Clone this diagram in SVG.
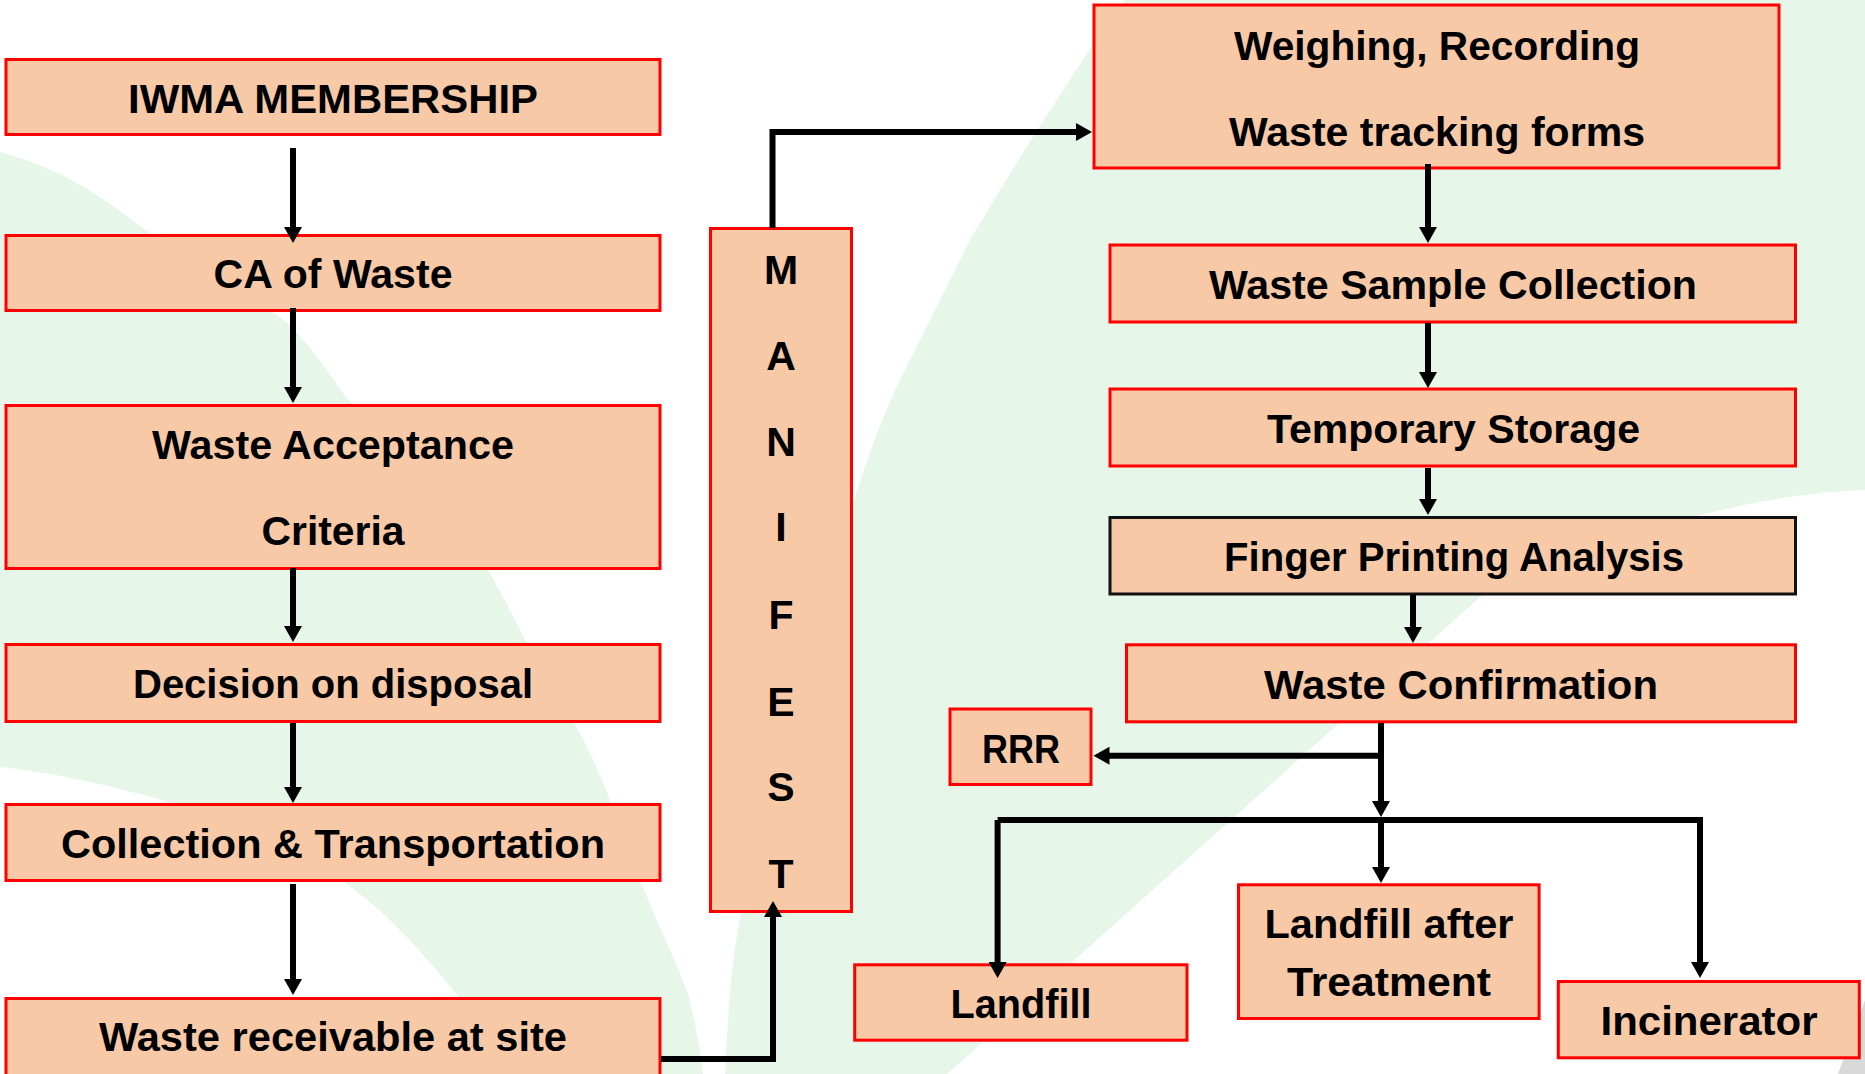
<svg xmlns="http://www.w3.org/2000/svg" width="1865" height="1074" viewBox="0 0 1865 1074">
  <defs>
    <style>
      .box { fill: #F7C9A7; stroke: #FF0000; stroke-width: 3; }
      .boxk { fill: #F7C9A7; stroke: #111111; stroke-width: 3; }
      .t { font-family: "Liberation Sans", Arial, sans-serif; font-weight: bold; font-size: 41px; fill: #000000; text-anchor: middle; }
      .c { fill: none; stroke: #000000; stroke-width: 6; stroke-linejoin: miter; }
      .bg { fill: #E6F6E9; }
    </style>
    <marker id="ah" markerUnits="userSpaceOnUse" markerWidth="17" markerHeight="18" refX="6" refY="9" orient="auto">
      <path d="M0,0 L16,9 L0,18 Z" fill="#000000"/>
    </marker>
  </defs>

  <rect x="0" y="0" width="1865" height="1074" fill="#FFFFFF"/>

  <g id="background">
    <path class="bg" d="M1125,0 L1865,0 L1865,490 C1800,492 1740,505 1680,520 C1600,540 1540,560 1497,582 L947,1074 L725,1074 C728,1010 732,960 738,930 C750,860 775,760 800,680 C820,610 835,560 854,500 C870,450 885,410 900,380 C930,320 950,280 970,240 C1000,190 1030,140 1057,100 C1080,65 1100,30 1125,0 Z"/>
    <path class="bg" d="M0,152 C50,165 95,190 134,222 C190,262 245,290 286,322 C315,350 330,375 348,400 C380,430 400,455 420,480 C450,515 470,540 488,570 C505,600 518,625 530,650 C548,680 560,700 574,723 C590,750 600,775 610,800 C622,830 630,855 640,880 C660,930 678,965 689,997 C696,1025 700,1050 703,1074 L500,1074 C490,1045 478,1020 459,997 C420,950 390,915 344,882 C290,845 230,820 172,803 C110,785 50,772 0,767 Z"/>
    <path d="M1865,1000 L1865,1074 L1838,1074 Z" fill="#D9D9D9"/>
  </g>

  <g id="n-iwma">
    <rect class="box" x="6" y="59.5" width="654" height="75"/>
    <text class="t" x="333" y="112.5" textLength="410" lengthAdjust="spacingAndGlyphs">IWMA MEMBERSHIP</text>
  </g>
  <g id="n-ca">
    <rect class="box" x="6" y="235.5" width="654" height="75"/>
    <text class="t" x="333" y="288" textLength="239" lengthAdjust="spacingAndGlyphs">CA of Waste</text>
  </g>
  <g id="n-wac">
    <rect class="box" x="6" y="405.5" width="654" height="163"/>
    <text class="t" x="333" y="459" textLength="362" lengthAdjust="spacingAndGlyphs">Waste Acceptance</text>
    <text class="t" x="333" y="545" textLength="143" lengthAdjust="spacingAndGlyphs">Criteria</text>
  </g>
  <g id="n-decision">
    <rect class="box" x="6" y="644.5" width="654" height="77"/>
    <text class="t" x="333" y="698" textLength="400" lengthAdjust="spacingAndGlyphs">Decision on disposal</text>
  </g>
  <g id="n-collection">
    <rect class="box" x="6" y="804.5" width="654" height="76"/>
    <text class="t" x="333" y="858" textLength="544" lengthAdjust="spacingAndGlyphs">Collection &amp; Transportation</text>
  </g>
  <g id="n-receivable">
    <rect class="box" x="6" y="998.5" width="654" height="90"/>
    <text class="t" x="333" y="1051" textLength="468" lengthAdjust="spacingAndGlyphs">Waste receivable at site</text>
  </g>

  <g id="n-manifest">
    <rect class="box" x="710.5" y="228.5" width="141" height="683"/>
    <text class="t" x="781" y="284">M</text>
    <text class="t" x="781" y="370">A</text>
    <text class="t" x="781" y="455.5">N</text>
    <text class="t" x="781" y="541">I</text>
    <text class="t" x="781" y="628.5">F</text>
    <text class="t" x="781" y="715.5">E</text>
    <text class="t" x="781" y="801">S</text>
    <text class="t" x="781" y="888">T</text>
  </g>

  <g id="n-weighing">
    <rect class="box" x="1094" y="5" width="685" height="163"/>
    <text class="t" x="1437" y="59.5" textLength="406" lengthAdjust="spacingAndGlyphs">Weighing, Recording</text>
    <text class="t" x="1437" y="146" textLength="416" lengthAdjust="spacingAndGlyphs">Waste tracking forms</text>
  </g>
  <g id="n-sample">
    <rect class="box" x="1110" y="245" width="685.5" height="77"/>
    <text class="t" x="1453" y="299" textLength="488" lengthAdjust="spacingAndGlyphs">Waste Sample Collection</text>
  </g>
  <g id="n-temp">
    <rect class="box" x="1110" y="389" width="685.5" height="77"/>
    <text class="t" x="1453.5" y="443" textLength="373" lengthAdjust="spacingAndGlyphs">Temporary Storage</text>
  </g>
  <g id="n-finger">
    <rect class="boxk" x="1110" y="517.5" width="685.5" height="76.5"/>
    <text class="t" x="1454" y="570.5" textLength="460" lengthAdjust="spacingAndGlyphs">Finger Printing Analysis</text>
  </g>
  <g id="n-confirm">
    <rect class="box" x="1126.5" y="644.8" width="669" height="77"/>
    <text class="t" x="1461" y="699" textLength="394" lengthAdjust="spacingAndGlyphs">Waste Confirmation</text>
  </g>
  <g id="n-rrr">
    <rect class="box" x="950" y="709" width="141" height="75.5"/>
    <text class="t" x="1021" y="762.5" textLength="78" lengthAdjust="spacingAndGlyphs">RRR</text>
  </g>
  <g id="n-landfill">
    <rect class="box" x="854.7" y="964.8" width="332.3" height="75.4"/>
    <text class="t" x="1021" y="1018" textLength="141" lengthAdjust="spacingAndGlyphs">Landfill</text>
  </g>
  <g id="n-landfill-treat">
    <rect class="box" x="1238.5" y="884.8" width="300.6" height="133.7"/>
    <text class="t" x="1389" y="938" textLength="249" lengthAdjust="spacingAndGlyphs">Landfill after</text>
    <text class="t" x="1389" y="996" textLength="204" lengthAdjust="spacingAndGlyphs">Treatment</text>
  </g>
  <g id="n-incinerator">
    <rect class="box" x="1558.3" y="981.5" width="301" height="76.3"/>
    <text class="t" x="1709" y="1035" textLength="217" lengthAdjust="spacingAndGlyphs">Incinerator</text>
  </g>

  <g id="connectors">
    <path class="c" d="M293,148 V233" marker-end="url(#ah)"/>
    <path class="c" d="M293,308 V393" marker-end="url(#ah)"/>
    <path class="c" d="M293,568 V632" marker-end="url(#ah)"/>
    <path class="c" d="M293,723 V793" marker-end="url(#ah)"/>
    <path class="c" d="M293,884 V985" marker-end="url(#ah)"/>
    <path class="c" d="M661,1059 H773 V911" marker-end="url(#ah)"/>
    <path class="c" d="M772.5,228 V132 H1082" marker-end="url(#ah)"/>
    <path class="c" d="M1428,164 V233" marker-end="url(#ah)"/>
    <path class="c" d="M1428,323 V378" marker-end="url(#ah)"/>
    <path class="c" d="M1428,468 V505" marker-end="url(#ah)"/>
    <path class="c" d="M1413,595 V633" marker-end="url(#ah)"/>
    <path class="c" d="M1381,723 V807" marker-end="url(#ah)"/>
    <path class="c" d="M1381,755.7 H1103.5" marker-end="url(#ah)"/>
    <path class="c" d="M997.6,820 H1700 V968" marker-end="url(#ah)"/>
    <path class="c" d="M997.6,820 V968" marker-end="url(#ah)"/>
    <path class="c" d="M1381,820 V873" marker-end="url(#ah)"/>
  </g>
</svg>
